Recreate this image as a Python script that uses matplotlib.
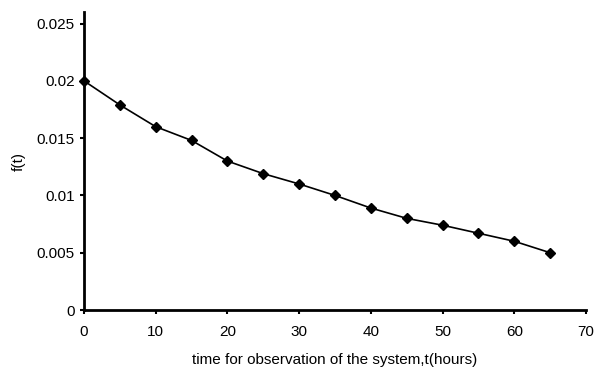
import matplotlib
matplotlib.use('Agg')
import matplotlib.pyplot as plt

plt.rcParams['font.family'] = ['Liberation Sans', 'DejaVu Sans']

t_hours = [0, 5, 10, 15, 20, 25, 30, 35, 40, 45, 50, 55, 60, 65]
f_t = [0.020, 0.0179, 0.0160, 0.0148, 0.0130, 0.0119, 0.0110, 0.0100,
       0.0089, 0.0080, 0.0074, 0.0067, 0.0060, 0.0050]
x_ticks = [0, 10, 20, 30, 40, 50, 60, 70]
y_ticks = [0, 0.005, 0.01, 0.015, 0.02, 0.025]
y_labels = ['0', '0.005', '0.01', '0.015', '0.02', '0.025']

fig = plt.figure(figsize=(5.94, 3.67), dpi=100)
ax = fig.add_axes([0.1414, 0.1553, 0.8451, 0.8117])

ax.plot(t_hours, f_t, color='black', lw=1.2, marker='D', ms=5.5,
        markerfacecolor='black', markeredgecolor='black', clip_on=False)

ax.set_xlim(0, 70)
ax.set_ylim(0, 0.026)
ax.set_xticks(x_ticks)
ax.set_yticks(y_ticks)
ax.set_yticklabels(y_labels)

for s in ['top', 'right']:
    ax.spines[s].set_visible(False)
for s in ['left', 'bottom']:
    ax.spines[s].set_linewidth(2)

ax.tick_params(axis='both', direction='out', length=3, width=1.5, labelsize=11)
ax.tick_params(axis='x', pad=8)

ax.set_xlabel('time for observation of the system,t(hours)', fontsize=11, labelpad=10)
ax.set_ylabel('f(t)', fontsize=11, labelpad=8)

fig.savefig('out.png', dpi=100)
